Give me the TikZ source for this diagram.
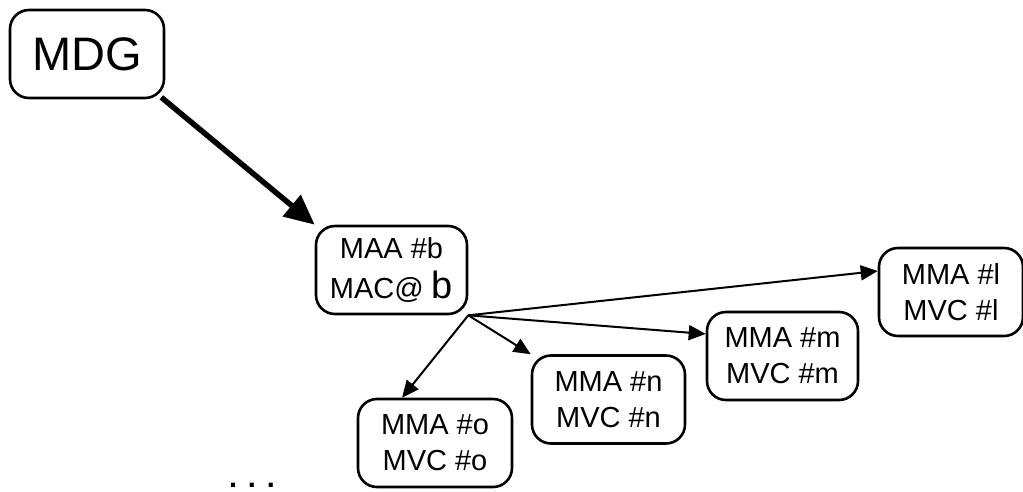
\documentclass[tikz,border=0pt]{standalone}
\usepackage{fontspec}
\setmainfont{Liberation Sans}
\usetikzlibrary{arrows.meta}
\begin{document}
\begin{tikzpicture}[x=1pt,y=-1pt,
  box/.style={draw,line width=2.6pt,rounded corners=19pt,align=center,
    inner sep=0pt,minimum height=88pt,
    font=\fontsize{29}{36}\selectfont},
  thick arrow/.style={line width=5.5pt,-{Triangle[length=30pt,width=27pt]}},
  thin arrow/.style={line width=2pt,-{Triangle[length=17pt,width=15pt]}}]
  \useasboundingbox (0,0) rectangle (1023,491);

  % top node
  \node[box,minimum width=154pt,font=\fontsize{47}{56}\selectfont] (mdg) at (87,54) {MDG};

  % intermediate node
  \node[box,minimum width=151pt,font=\fontsize{29}{40}\selectfont] (b) at (391.5,270)
    {MAA \#b\\MAC@ {\fontsize{38}{40}\selectfont b}};

  % leaf nodes
  \node[box,minimum width=144pt] (l) at (951,292) {MMA \#l\\MVC \#l};
  \node[box,minimum width=151pt] (m) at (782.5,356) {MMA \#m\\MVC \#m};
  \node[box,minimum width=153pt] (n) at (608.5,399.5) {MMA \#n\\MVC \#n};
  \node[box,minimum width=154pt] (o) at (435,443) {MMA \#o\\MVC \#o};

  % continuation mark
  \node[font=\fontsize{29}{36}\bfseries,anchor=base,inner sep=0pt] (more) at (252,487.5) {. . .};

  % connectors
  \draw[thick arrow] (mdg.south east) ++(-4,-2) -- (b.north west);
  \coordinate (fan) at (b.south east);
  \draw[thin arrow] (fan) -- (l.164);
  \draw[thin arrow] (fan) -- (m.164);
  \draw[thin arrow] (fan) -- (n.north west);
  \draw[thin arrow] (fan) -- (o.126);
\end{tikzpicture}
\end{document}
